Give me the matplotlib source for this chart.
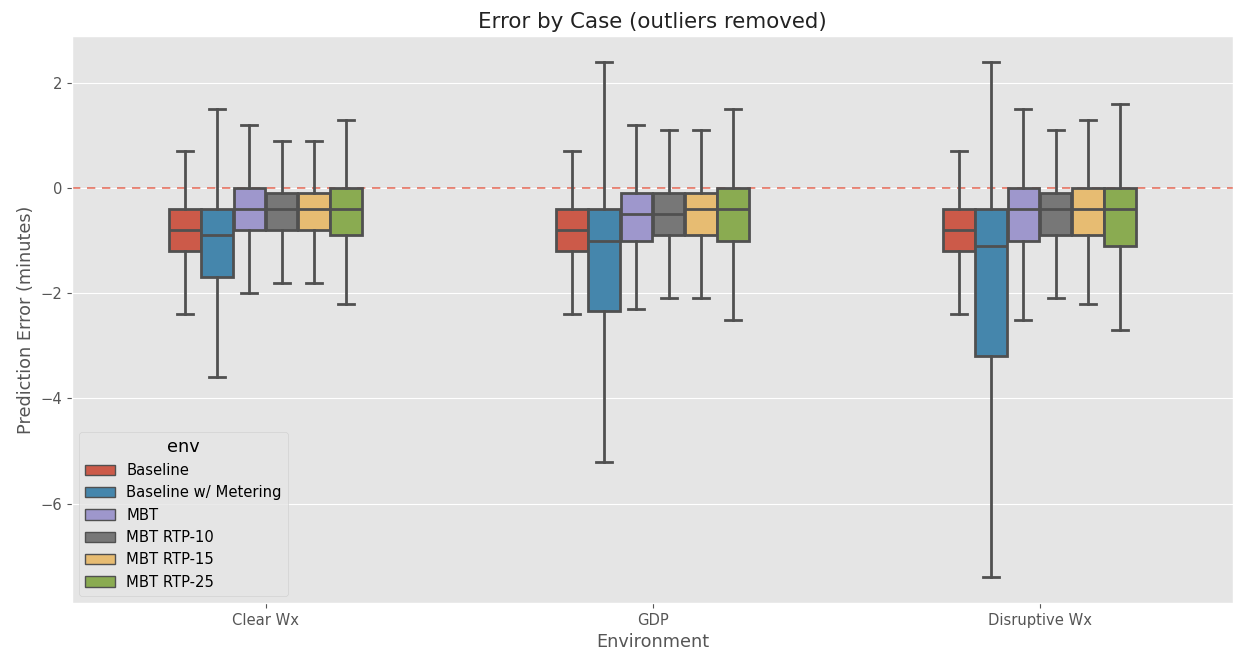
import colorsys
import matplotlib
matplotlib.use("Agg")
import matplotlib.pyplot as plt
import matplotlib.colors as mcolors
from matplotlib.patches import Patch

plt.style.use("ggplot")

environments = ["Clear Wx", "GDP", "Disruptive Wx"]
cases = ["Baseline", "Baseline w/ Metering", "MBT", "MBT RTP-10", "MBT RTP-15", "MBT RTP-25"]
case_colors = ["#E24A33", "#348ABD", "#988ED5", "#777777", "#FBC15E", "#8EBA42"]

# per environment: rows are cases, values [whislo, q1, med, q3, whishi]
clear_wx = [
    [-2.4, -1.2, -0.8, -0.4, 0.7],
    [-3.6, -1.7, -0.9, -0.4, 1.5],
    [-2.0, -0.8, -0.4, 0.0, 1.2],
    [-1.8, -0.8, -0.4, -0.1, 0.9],
    [-1.8, -0.8, -0.4, -0.1, 0.9],
    [-2.2, -0.9, -0.4, 0.0, 1.3],
]
gdp = [
    [-2.4, -1.2, -0.8, -0.4, 0.7],
    [-5.2, -2.33, -1.0, -0.4, 2.4],
    [-2.3, -1.0, -0.5, -0.1, 1.2],
    [-2.1, -0.9, -0.5, -0.1, 1.1],
    [-2.1, -0.9, -0.4, -0.1, 1.1],
    [-2.5, -1.0, -0.4, 0.0, 1.5],
]
disruptive_wx = [
    [-2.4, -1.2, -0.8, -0.4, 0.7],
    [-7.4, -3.2, -1.1, -0.4, 2.4],
    [-2.5, -1.0, -0.4, 0.0, 1.5],
    [-2.1, -0.9, -0.4, -0.1, 1.1],
    [-2.2, -0.9, -0.4, 0.0, 1.3],
    [-2.7, -1.1, -0.4, 0.0, 1.6],
]
env_stats = [clear_wx, gdp, disruptive_wx]


def desaturate(c, prop):
    r, g, b = mcolors.to_rgb(c)
    h, l, s = colorsys.rgb_to_hls(r, g, b)
    return colorsys.hls_to_rgb(h, l, s * prop)


fills = [desaturate(c, 0.75) for c in case_colors]
edge = "#505050"
lw = 2.0

fig = plt.figure(figsize=(12.35, 6.56), dpi=100)
ax = fig.add_axes([72 / 1235, 1 - 603 / 656, (1233 - 72) / 1235, (603 - 36) / 656])

group_width = 0.5
n = len(cases)
w = group_width / n
for i, stats in enumerate(env_stats):
    for j, (lo, q1, med, q3, hi) in enumerate(stats):
        pos = i - group_width / 2 + (j + 0.5) * w
        st = [dict(whislo=lo, q1=q1, med=med, q3=q3, whishi=hi, fliers=[])]
        ax.bxp(st, positions=[pos], widths=[w * 0.98], patch_artist=True,
               showfliers=False, manage_ticks=False,
               boxprops=dict(facecolor=fills[j], edgecolor=edge, linewidth=lw),
               medianprops=dict(color=edge, linewidth=lw),
               whiskerprops=dict(color=edge, linewidth=lw),
               capprops=dict(color=edge, linewidth=lw))

ax.axhline(0, color="#E24A33", linestyle=(0, (5, 4)), linewidth=1.2, alpha=0.75, zorder=1.5)
ax.set_xlim(-0.5, 2.5)
ax.set_xticks(range(len(environments)))
ax.set_xticklabels(environments)
ax.set_yticks([-6, -4, -2, 0, 2])
ax.set_ylim(-7.89, 2.89)
ax.grid(axis="x", visible=False)
ax.set_xlabel("Environment", fontsize=12.7)
ax.set_ylabel("Prediction Error (minutes)", fontsize=12.7)
ax.set_title("Error by Case (outliers removed)", fontsize=15.4, color="#222222")
ax.tick_params(labelsize=10.6)

handles = [Patch(facecolor=fills[j], edgecolor=edge, linewidth=1, label=cases[j]) for j in range(n)]
leg = ax.legend(handles=handles, title="env", loc="lower left", fontsize=10.6, title_fontsize=12.7)

fig.savefig("out.png", dpi=100)
